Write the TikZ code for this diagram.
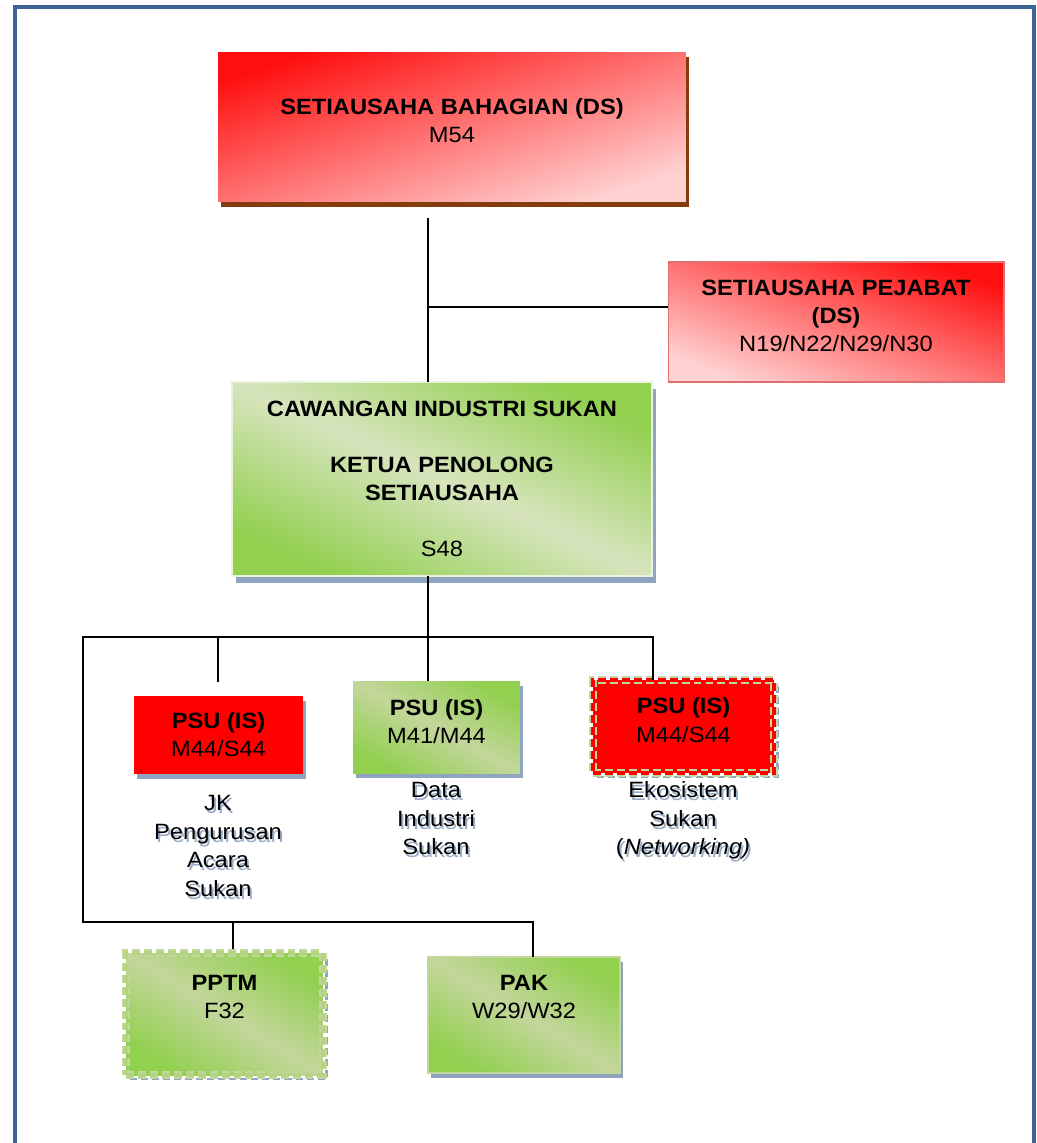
\documentclass[tikz,border=0pt]{standalone}
\usepackage{fontspec}
\setmainfont{Liberation Sans}[FakeStretch=1.07]
\usetikzlibrary{shadows}
\definecolor{framebl}{HTML}{3D6493}
\definecolor{dsred}{HTML}{FF1010}
\definecolor{dspink}{HTML}{FFD2D2}
\definecolor{dsbrown}{HTML}{843C0C}
\definecolor{spborder}{HTML}{E07070}
\definecolor{sukgreen}{HTML}{92D050}
\definecolor{sukpale}{HTML}{D7E4BD}
\definecolor{lightolive}{HTML}{C3D69B}
\definecolor{shadowbl}{HTML}{8EA4BF}
\definecolor{txtshadow}{HTML}{9AADC7}
\newcommand{\textlift}[1]{\rule[-#1]{0pt}{#1}}
\tikzset{
  box/.style={inner sep=0pt, outer sep=0pt, align=center, font=\fontsize{12.6}{16}\selectfont},
  redbox/.style={box, top color=dsred, bottom color=dspink},
  greenbox/.style={box, top color=sukgreen, bottom color=sukgreen, middle color=#1},
  greenbox/.default=sukpale,
  grayshadow/.style={drop shadow={shadow xshift=1.7pt, shadow yshift=-2.8pt, fill=shadowbl, opacity=1}},
  dashshadow/.style={general shadow={shadow xshift=2pt, shadow yshift=-2.5pt, draw=shadowbl,
      dash pattern=on 4pt off 2.3pt, line width=1.2pt}},
  dashedge/.style={draw=lightolive, dash pattern=on 4.5pt off 2.3pt, line width=1.1pt, double=#1, double distance=2.5pt},
  link/.style={line width=1.1pt},
  lbl/.style={inner sep=0pt, anchor=north, align=center, font=\fontsize{12.6}{16.3}\selectfont},
}
\begin{document}
\begin{tikzpicture}[x=0.02cm, y=-0.02cm]
\useasboundingbox (0,0) rectangle (1037,1143);
\draw[draw=framebl, line width=2.8pt] (15,1160) -- (15,7) -- (1034,7) -- (1034,1160);

% boxes
\node[redbox, shading angle=17.8, drop shadow={shadow xshift=1.5pt, shadow yshift=-3pt, fill=dsbrown, opacity=1},
  minimum width=9.36cm, minimum height=3cm] (ds) at (452,127)
  {\textbf{SETIAUSAHA BAHAGIAN (DS)}\\M54\textlift{7.7pt}};
\node[redbox, shading angle=-19.7, draw=spborder, line width=0.6pt,
  minimum width=6.72cm, minimum height=2.4cm] (sp) at (836,322)
  {\textbf{SETIAUSAHA PEJABAT}\\\textbf{(DS)}\\N19/N22/N29/N30\textlift{7.4pt}};
\node[greenbox, shading angle=-24.8, draw=sukpale!50!white, line width=0.8pt,
  drop shadow={shadow xshift=2.3pt, shadow yshift=-4pt, fill=shadowbl, opacity=1},
  minimum width=8.4cm, minimum height=3.88cm] (cis) at (442,479)
  {\textbf{CAWANGAN INDUSTRI SUKAN}\\[16pt]\textbf{KETUA PENOLONG}\\\textbf{SETIAUSAHA}\\[16pt]S48};

\node[box, fill=red, grayshadow, minimum width=3.38cm, minimum height=1.56cm] (psu1) at (218.5,735)
  {\textbf{PSU (IS)}\\M44/S44};
\node[greenbox=lightolive, shading angle=-28.9, grayshadow, minimum width=3.34cm, minimum height=1.84cm] (psu2) at (436.5,727)
  {\textbf{PSU (IS)}\\M41/M44\textlift{6.3pt}};
\node[box, fill=red, dashedge=red, dashshadow, minimum width=3.62cm, minimum height=1.86cm] (psu3) at (683.5,726.5)
  {\textbf{PSU (IS)}\\M44/S44\textlift{7.4pt}};

\node[greenbox=lightolive, shading angle=-31.8, dashedge=lightolive!70!sukgreen, dashshadow, minimum width=3.94cm, minimum height=2.44cm] (pptm) at (224.5,1014)
  {\textbf{PPTM}\\F32\textlift{20pt}};
\node[greenbox=lightolive, shading angle=-31.1, draw=lightolive, line width=1.2pt, grayshadow, minimum width=3.84cm, minimum height=2.32cm] (pak) at (524,1015)
  {\textbf{PAK}\\W29/W32\textlift{20.5pt}};

% text under the PSU boxes
\node[lbl, text=txtshadow, xshift=1.1pt, yshift=-1.7pt] (jks) at (218,795) {JK\\Pengurusan\\Acara\\Sukan};
\node[lbl] (jk) at (218,795) {JK\\Pengurusan\\Acara\\Sukan};
\node[lbl, text=txtshadow, xshift=1.1pt, yshift=-1.7pt] (datas) at (436,782) {Data\\Industri\\Sukan};
\node[lbl] (data) at (436,782) {Data\\Industri\\Sukan};
\node[lbl, text=txtshadow, xshift=1.1pt, yshift=-1.7pt] (ekos) at (683,781) {Ekosistem\\Sukan\\(\textit{Networking)}};
\node[lbl] (eko) at (683,781) {Ekosistem\\Sukan\\(\textit{Networking)}};

% connectors
\coordinate (dstop) at (428,218);
\coordinate (spjoin) at (428,307);
\coordinate (hub) at (428,637);
\coordinate (busL) at (83,637);
\coordinate (busR) at (653,637);
\coordinate (busLow) at (83,922);
\coordinate (psuone) at (218,682);
\coordinate (pptmtop) at (233,949);
\coordinate (pakx) at (533,922);
\draw[link] (dstop) -- (dstop |- cis.north);
\draw[link] (spjoin) -- (spjoin -| sp.west);
\draw[link] (hub |- cis.south) -- (hub) -- (hub |- psu2.north);
\draw[link] (busR |- psu3.north) -- (busR) -- (busL) -- (busLow) -- (pakx) -- (pakx |- pak.north);
\draw[link] (psuone |- busL) -- (psuone);
\draw[link] (pptmtop |- busLow) -- (pptmtop);
\end{tikzpicture}
\end{document}
